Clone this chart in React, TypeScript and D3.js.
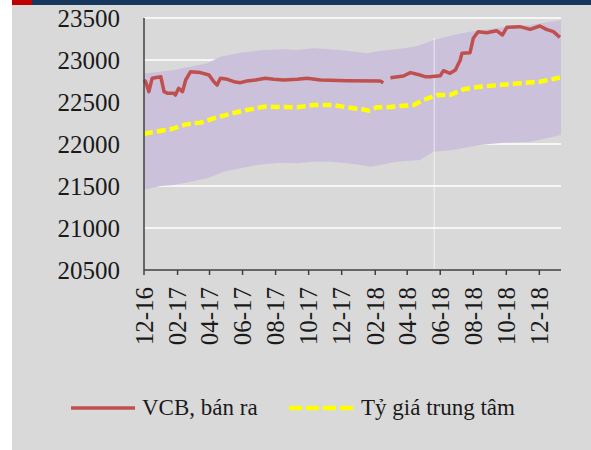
import React, { useRef, useEffect } from "react";
import * as d3 from "d3";

// VCB selling rate (gap around Tet 2018)
const vcbDates = [
  "2016-12-01", "2016-12-04", "2016-12-10", "2016-12-16", "2017-01-01", "2017-01-07",
  "2017-01-14", "2017-01-25", "2017-01-28", "2017-02-03", "2017-02-10", "2017-02-16",
  "2017-02-25", "2017-03-15", "2017-03-31", "2017-04-09", "2017-04-15", "2017-04-21",
  "2017-05-04", "2017-05-16", "2017-05-28", "2017-06-09", "2017-06-25", "2017-07-13",
  "2017-07-29", "2017-08-16", "2017-09-10", "2017-09-28", "2017-10-23", "2017-12-11",
  "2018-02-10", "2018-02-16", "2018-02-20", "2018-03-01", "2018-03-25", "2018-04-07",
  "2018-04-19", "2018-04-25", "2018-05-04", "2018-05-13", "2018-06-01", "2018-06-07",
  "2018-06-19", "2018-06-29", "2018-07-08", "2018-07-11", "2018-07-26", "2018-08-01",
  "2018-08-10", "2018-08-26", "2018-09-13", "2018-09-24", "2018-10-02", "2018-10-26",
  "2018-11-14", "2018-12-02", "2018-12-14", "2018-12-27", "2019-01-08",
];
const vcbValues = [
  22762, 22742, 22623, 22782, 22801, 22623,
  22603, 22603, 22583, 22663, 22623, 22762,
  22861, 22850, 22821, 22742, 22702, 22782,
  22770, 22742, 22730, 22750, 22762, 22782,
  22770, 22762, 22770, 22782, 22762, 22754,
  22750, 22730, null, 22790, 22810, 22850,
  22830, 22821, 22801, 22801, 22813, 22873,
  22841, 22881, 23000, 23079, 23087, 23258,
  23337, 23325, 23349, 23298, 23389, 23397,
  23365, 23405, 23365, 23337, 23270,
];

// central rate
const centralDates = [
  "2016-12-01", "2017-01-01", "2017-01-19", "2017-02-16", "2017-03-15", "2017-04-15",
  "2017-05-13", "2017-06-09", "2017-07-10", "2017-08-10", "2017-09-10", "2017-10-10",
  "2017-11-13", "2017-12-11", "2018-01-08", "2018-01-20", "2018-02-04", "2018-02-23",
  "2018-03-19", "2018-04-13", "2018-05-01", "2018-05-26", "2018-06-19", "2018-07-14",
  "2018-08-13", "2018-09-19", "2018-10-26", "2018-12-02", "2018-12-27", "2019-01-08",
];
const centralValues = [
  22122, 22158, 22175, 22234, 22254, 22318,
  22365, 22405, 22444, 22440, 22437, 22464,
  22464, 22437, 22413, 22397, 22437, 22437,
  22452, 22464, 22524, 22583, 22583, 22651,
  22682, 22702, 22722, 22742, 22774, 22790,
];

// +/- band
const upperDates = [
  "2016-12-01", "2017-01-25", "2017-03-28", "2017-04-21", "2017-05-28", "2017-07-10",
  "2017-08-16", "2017-09-10", "2017-10-10", "2017-11-10", "2017-12-11", "2018-01-17",
  "2018-02-10", "2018-03-13", "2018-04-13", "2018-05-04", "2018-05-20", "2018-06-25",
  "2018-07-26", "2018-09-25", "2018-11-14", "2019-01-10",
];
const upperValues = [
  22840, 22880, 22960, 23040, 23087, 23119,
  23127, 23119, 23139, 23127, 23111, 23079,
  23111, 23127, 23159, 23198, 23238, 23298,
  23337, 23389, 23417, 23476,
];
const lowerDates = [
  "2016-12-01", "2017-01-01", "2017-01-25", "2017-02-25", "2017-03-28", "2017-04-27",
  "2017-05-28", "2017-06-28", "2017-07-29", "2017-08-16", "2017-09-10", "2017-10-10",
  "2017-11-10", "2017-12-11", "2018-01-04", "2018-01-23", "2018-02-10", "2018-03-13",
  "2018-04-25", "2018-05-04", "2018-05-20", "2018-06-25", "2018-08-13", "2018-09-25",
  "2018-11-14", "2018-12-27", "2019-01-10",
];
const lowerValues = [
  21455, 21500, 21512, 21552, 21592, 21671,
  21710, 21750, 21770, 21778, 21770, 21790,
  21790, 21770, 21750, 21730, 21750, 21790,
  21810, 21849, 21909, 21929, 21988, 22016,
  22028, 22087, 22107,
];

const tickLabels = ["12-16", "02-17", "04-17", "06-17", "08-17", "10-17", "12-17",
  "02-18", "04-18", "06-18", "08-18", "10-18", "12-18"];
const yTicks = [20500, 21000, 21500, 22000, 22500, 23000, 23500];

const FONT = "'Liberation Serif', 'DejaVu Serif', serif";

const App = () => {
  const svgRef = useRef(null);

  useEffect(() => {
    document.body.style.margin = "0";
    const svg = d3.select(svgRef.current);
    svg.selectAll("*").remove();

    const parse = d3.timeParse("%Y-%m-%d");
    const parseTick = d3.timeParse("%m-%y");

    const x = d3.scaleTime()
      .domain([parse("2016-12-01"), parse("2019-01-10")])
      .range([144, 561]);
    const y = d3.scaleLinear().domain([20500, 23500]).range([270, 18]);

    // panel
    svg.append("rect").attr("x", 12).attr("y", 0).attr("width", 579).attr("height", 450).attr("fill", "#d9d9d9");
    svg.append("rect").attr("x", 12).attr("y", 0).attr("width", 579).attr("height", 5).attr("fill", "#17375e");
    svg.append("rect").attr("x", 12).attr("y", 0).attr("width", 20).attr("height", 5).attr("fill", "#c00000");

    // gridlines
    svg.append("g")
      .selectAll("line")
      .data(yTicks.slice(1))
      .enter()
      .append("line")
      .attr("x1", 144).attr("x2", 561)
      .attr("y1", d => y(d)).attr("y2", d => y(d))
      .attr("stroke", "#ffffff")
      .attr("stroke-width", 1.5);

    // band
    const upper = upperDates.map((d, i) => [parse(d), upperValues[i]]);
    const lower = lowerDates.map((d, i) => [parse(d), lowerValues[i]]).reverse();
    const poly = d3.line().x(d => x(d[0])).y(d => y(d[1]));
    svg.append("path")
      .attr("d", poly(upper.concat(lower)) + "Z")
      .attr("fill", "#ccc1da");

    // faint vertical line
    const vx = x(parse("2018-05-21"));
    svg.append("line")
      .attr("x1", vx).attr("x2", vx).attr("y1", 38).attr("y2", 270)
      .attr("stroke", "#ffffff").attr("stroke-opacity", 0.45).attr("stroke-width", 1.5);

    // central rate
    const central = centralDates.map((d, i) => ({ date: parse(d), value: centralValues[i] }));
    const line = d3.line()
      .defined(d => d.value != null)
      .x(d => x(d.date))
      .y(d => y(d.value));
    svg.append("path")
      .datum(central)
      .attr("d", line)
      .attr("fill", "none")
      .attr("stroke", "#ffff00")
      .attr("stroke-width", 4.5)
      .attr("stroke-dasharray", "9,4");

    // VCB
    const vcb = vcbDates.map((d, i) => ({ date: parse(d), value: vcbValues[i] }));
    svg.append("path")
      .datum(vcb)
      .attr("d", line)
      .attr("fill", "none")
      .attr("stroke", "#c0504d")
      .attr("stroke-width", 3.5)
      .attr("stroke-linejoin", "round");

    // axes
    svg.append("line").attr("x1", 144).attr("x2", 144).attr("y1", 18).attr("y2", 270)
      .attr("stroke", "#404040").attr("stroke-width", 1.5);
    svg.append("line").attr("x1", 144).attr("x2", 561).attr("y1", 270).attr("y2", 270)
      .attr("stroke", "#404040").attr("stroke-width", 1.5);

    svg.append("g")
      .selectAll("text")
      .data(yTicks)
      .enter()
      .append("text")
      .attr("x", 120)
      .attr("y", d => y(d))
      .attr("dy", "0.35em")
      .attr("text-anchor", "end")
      .attr("font-family", FONT)
      .attr("font-size", 25)
      .attr("fill", "#1a1a1a")
      .text(d => d);

    const xt = svg.append("g");
    tickLabels.forEach(t => {
      const tx = x(parseTick(t));
      xt.append("line").attr("x1", tx).attr("x2", tx).attr("y1", 270).attr("y2", 275)
        .attr("stroke", "#404040").attr("stroke-width", 1.5);
      xt.append("text")
        .attr("transform", `translate(${tx},287) rotate(-90)`)
        .attr("dy", "0.35em")
        .attr("text-anchor", "end")
        .attr("font-family", FONT)
        .attr("font-size", 25)
        .attr("fill", "#1a1a1a")
        .text(t);
    });

    // legend
    const lg = svg.append("g");
    lg.append("line").attr("x1", 71).attr("x2", 135).attr("y1", 408).attr("y2", 408)
      .attr("stroke", "#c0504d").attr("stroke-width", 3.5);
    lg.append("text").attr("x", 142).attr("y", 415)
      .attr("font-family", FONT).attr("font-size", 23).attr("fill", "#1a1a1a")
      .text("VCB, bán ra");
    lg.append("line").attr("x1", 289).attr("x2", 353).attr("y1", 408).attr("y2", 408)
      .attr("stroke", "#ffff00").attr("stroke-width", 4.5).attr("stroke-dasharray", "13,4");
    lg.append("text").attr("x", 361).attr("y", 415)
      .attr("font-family", FONT).attr("font-size", 23).attr("fill", "#1a1a1a")
      .text("Tỷ giá trung tâm");
  }, []);

  return (
    <svg ref={svgRef} width={591} height={450}
      style={{ position: "absolute", left: 0, top: 0, display: "block" }} />
  );
};

export default App;
